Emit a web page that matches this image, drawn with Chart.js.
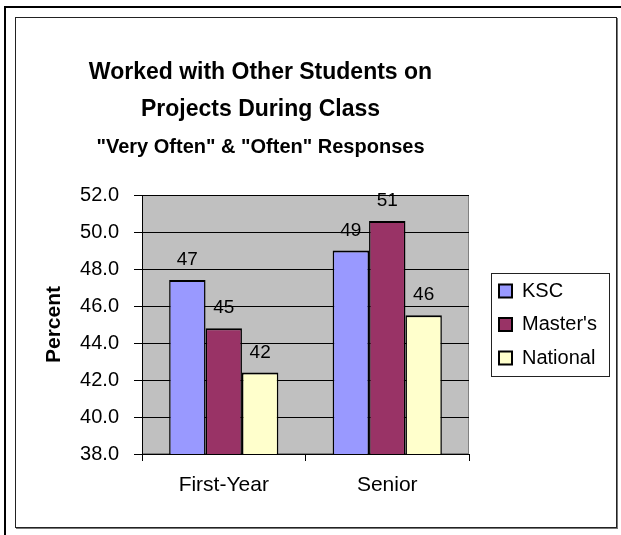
<!DOCTYPE html>
<html>
<head>
<meta charset="utf-8">
<script src="https://cdn.jsdelivr.net/npm/chart.js@4.4.0/dist/chart.umd.min.js"></script>
<style>
  html, body { margin: 0; padding: 0; background: #fff; }
  #outer { position: absolute; left: 4px; top: 6px; width: 640px; height: 560px; border-top: 2px solid #000; border-left: 2px solid #000; }
  #frame { position: absolute; left: 15px; top: 17px; width: 602px; height: 511px; box-sizing: border-box; border: 1px solid #222; box-shadow: 1px 1px 0 #777; }
  #wrap { position: absolute; left: 0; top: 0; width: 621px; height: 535px; }
</style>
</head>
<body>
<div id="outer"></div>
<div id="frame"></div>
<div id="wrap"><canvas id="chart"></canvas></div>
<script>
// chart data
const categories = ['First-Year', 'Senior'];
const seriesNames = ['KSC', "Master's", 'National'];
const kscValues = [47.4, 49.0];
const mastersValues = [44.8, 50.6];
const nationalValues = [42.4, 45.5];
const yMin = 38, yMax = 52, yStep = 2;

const FONT = "'Liberation Sans', Arial, sans-serif";
Chart.defaults.font.family = FONT;
Chart.defaults.color = '#000';

// grey plot area like the Excel original
const plotBackground = {
    id: 'plotBackground',
    beforeDraw(chart) {
        const { ctx, chartArea: a } = chart;
        ctx.save();
        ctx.fillStyle = '#c0c0c0';
        ctx.fillRect(a.left, a.top, a.width, a.height);
        ctx.strokeStyle = '#808080';
        ctx.lineWidth = 1;
        ctx.strokeRect(a.left + 0.5, a.top + 0.5, a.width - 1, a.height - 1);
        ctx.restore();
    }
};

// title sits left of centre, legend a bit away from the plot
const layoutFix = {
    id: 'layoutFix',
    afterLayout(chart) {
        chart.boxes.forEach(b => {
            if (b.position === 'top') {
                b.left = 16;
                b.right = 505;
                b.width = b.right - b.left;
            }
        });
        const lg = chart.legend;
        lg.left += 16.5;
        lg.width = 140;
        lg.right = lg.left + lg.width;
    }
};

// box around the legend
const legendFrame = {
    id: 'legendFrame',
    afterDraw(chart) {
        const boxes = chart.legend.legendHitBoxes;
        if (!boxes || !boxes.length) return;
        const last = boxes[boxes.length - 1];
        const left = boxes[0].left - 8;
        const top = boxes[0].top - 8;
        const bottom = last.top + last.height + 8;
        const ctx = chart.ctx;
        ctx.save();
        ctx.strokeStyle = '#222';
        ctx.lineWidth = 1;
        ctx.strokeRect(Math.round(left) + 0.5, Math.round(top) + 0.5, 118, Math.round(bottom - top));
        ctx.restore();
    }
};

// rounded values above bars
const valueLabels = {
    id: 'valueLabels',
    afterDatasetsDraw(chart) {
        const ctx = chart.ctx;
        ctx.save();
        ctx.font = '19px ' + FONT;
        ctx.fillStyle = '#000';
        ctx.textAlign = 'center';
        ctx.textBaseline = 'alphabetic';
        chart.data.datasets.forEach((ds, i) => {
            chart.getDatasetMeta(i).data.forEach((bar, j) => {
                ctx.fillText(String(Math.round(ds.data[j])), bar.x, bar.y - 15);
            });
        });
        ctx.restore();
    }
};

const ctx = document.getElementById('chart').getContext('2d');
const chart = new Chart(ctx, {
    type: 'bar',
    data: {
        labels: categories,
        datasets: [
            { label: seriesNames[0], data: kscValues, backgroundColor: '#9999ff' },
            { label: seriesNames[1], data: mastersValues, backgroundColor: '#993366' },
            { label: seriesNames[2], data: nationalValues, backgroundColor: '#ffffcc' }
        ].map(ds => Object.assign(ds, {
            borderColor: '#000',
            borderWidth: { top: 2, left: 1.5, right: 1.5, bottom: 0 },
            borderSkipped: false,
            categoryPercentage: 0.668,
            barPercentage: 1.0
        }))
    },
    options: {
        responsive: true,
        maintainAspectRatio: false,
        animation: false,
        devicePixelRatio: 1,
        layout: { padding: { top: 18, left: 16, right: 42, bottom: 7 } },
        scales: {
            x: {
                grid: { drawOnChartArea: false, drawTicks: true, tickLength: 7, color: '#000', offset: true },
                border: { color: '#000', width: 1 },
                ticks: { color: '#000', font: { size: 21 }, padding: 12 },
                afterFit(scale) { scale.height = 74; }
            },
            y: {
                min: yMin,
                max: yMax,
                ticks: {
                    stepSize: yStep,
                    callback: v => v.toFixed(1),
                    color: '#000',
                    font: { size: 20 },
                    padding: 15
                },
                grid: { color: '#000', tickLength: 8, drawTicks: true },
                border: { color: '#000', width: 1 },
                title: {
                    display: true,
                    text: 'Percent',
                    color: '#000',
                    font: { size: 21, weight: 'bold' },
                    padding: { top: 26, bottom: 0 }
                },
                afterFit(scale) { scale.width = 126; }
            }
        },
        plugins: {
            title: {
                display: true,
                text: ['Worked with Other Students on', 'Projects During Class'],
                color: '#000',
                font: { size: 23, weight: 'bold', lineHeight: '37px' },
                padding: { top: 36, bottom: 7 }
            },
            subtitle: {
                display: true,
                text: '"Very Often" & "Often" Responses',
                color: '#000',
                font: { size: 20, weight: 'bold', lineHeight: 1.2 },
                padding: { top: 0, bottom: 36 }
            },
            legend: {
                position: 'right',
                fullSize: false,
                maxWidth: 110,
                labels: {
                    boxWidth: 13,
                    boxHeight: 13,
                    padding: 13.5,
                    color: '#000',
                    font: { size: 20 },
                    generateLabels(c) {
                        return Chart.defaults.plugins.legend.labels.generateLabels(c)
                            .map(item => Object.assign(item, { lineWidth: 2, strokeStyle: '#000' }));
                    }
                }
            },
            tooltip: { enabled: false }
        }
    },
    plugins: [plotBackground, layoutFix, legendFrame, valueLabels]
});
</script>
</body>
</html>
